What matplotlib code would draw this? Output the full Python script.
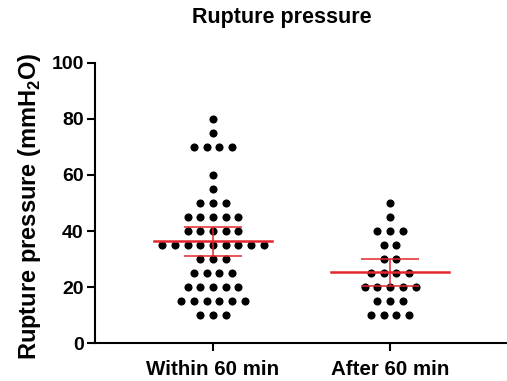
import numpy as np
import matplotlib
matplotlib.use("Agg")
import matplotlib.pyplot as plt

plt.rcParams['font.family'] = ['Liberation Sans', 'DejaVu Sans']
plt.rcParams['font.weight'] = 'bold'
plt.rcParams['mathtext.fontset'] = 'custom'
plt.rcParams['mathtext.rm'] = 'Liberation Sans:bold'
plt.rcParams['mathtext.bf'] = 'Liberation Sans:bold'

# Rupture pressure readings (mmH2O) per group
groups = ['Within 60 min', 'After 60 min']
within_60 = [80, 75, 70, 70, 70, 70, 60, 55, 50, 50, 50,
             45, 45, 45, 45, 45, 40, 40, 40, 40, 40,
             35, 35, 35, 35, 35, 35, 35, 35, 35, 30, 30, 30,
             25, 25, 25, 25, 20, 20, 20, 20, 20,
             15, 15, 15, 15, 15, 15, 10, 10, 10]
after_60 = [50, 45, 40, 40, 40, 35, 35, 30, 30,
            25, 25, 25, 25, 20, 20, 20, 20, 20,
            15, 15, 15, 10, 10, 10, 10]
# two-sided 95% t critical values for n-1 degrees of freedom
t_crit = [2.009, 2.064]

fig = plt.figure(figsize=(5.07, 3.81), dpi=100)
ax = fig.add_axes([0.187, 0.0997, 0.813, 0.735])

spacing = 0.0718
red = '#e3262e'
for i, vals in enumerate([within_60, after_60]):
    vals = np.array(vals)
    # lay out equal values side by side, centred on the group position
    xs, ys = [], []
    for v in np.unique(vals):
        k = np.sum(vals == v)
        offs = (np.arange(k) - (k - 1) / 2) * spacing
        xs.extend(i + offs)
        ys.extend([v] * k)
    ax.scatter(xs, ys, s=34, color='black', zorder=2, linewidths=0)

    mean = vals.mean()
    ci = t_crit[i] * vals.std(ddof=1) / np.sqrt(len(vals))
    ax.plot([i - 0.335, i + 0.335], [mean, mean], color=red, lw=1.8, zorder=3)
    ax.errorbar(i, mean, yerr=ci, fmt='none', ecolor=red, elinewidth=1.1,
                capsize=21, capthick=1.1, zorder=3)

ax.set_xlim(-0.667, 1.66)
ax.set_ylim(0, 100)
ax.set_xticks([0, 1])
ax.set_xticklabels(groups)
ax.set_yticks(range(0, 101, 20))
ax.tick_params(labelsize=14, width=1.5, length=6, pad=2)
ax.tick_params(axis='x', labelsize=14.8, pad=6)
for s in ['top', 'right']:
    ax.spines[s].set_visible(False)
for s in ['left', 'bottom']:
    ax.spines[s].set_linewidth(1.5)
ax.set_ylabel('Rupture pressure (mmH$_2$O)', fontsize=17, fontweight='bold')
ax.yaxis.set_label_coords(-0.125, 0.49)
fig.text(0.555, 1 - 18 / 381, 'Rupture pressure', fontsize=15.5,
         fontweight='bold', ha='center', va='center')

fig.savefig('out.png', dpi=100)
